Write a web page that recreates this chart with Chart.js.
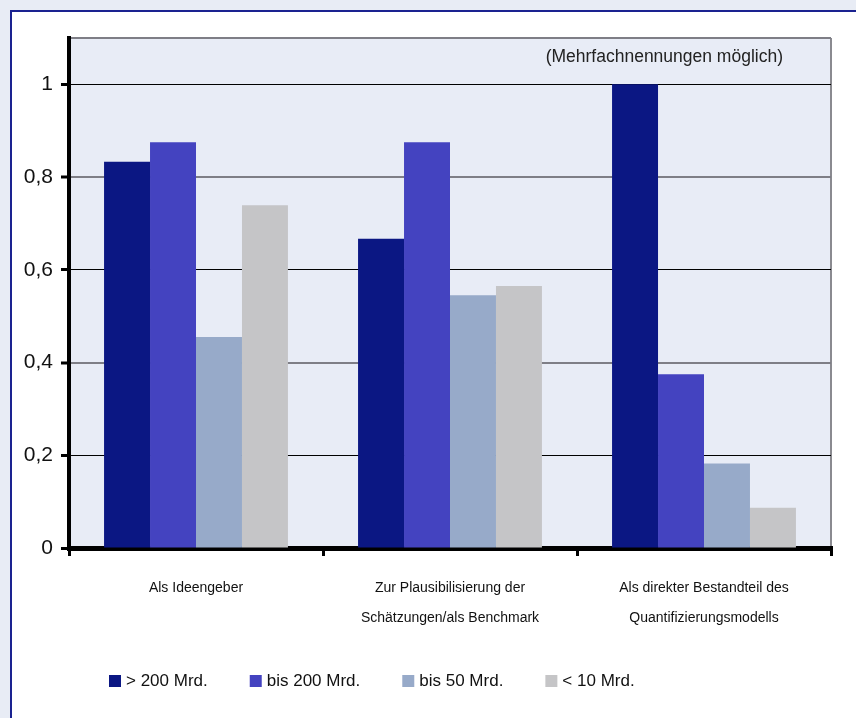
<!DOCTYPE html>
<html>
<head>
<meta charset="utf-8">
<script src="https://cdn.jsdelivr.net/npm/chart.js@4.4.1/dist/chart.umd.min.js"></script>
<style>
  html, body { margin: 0; padding: 0; background: #E8ECF5; overflow: hidden; }
  canvas { display: block; }
</style>
</head>
<body>
<canvas id="c" width="856" height="718"></canvas>
<script>
// ---- Data ----
const categories = [
  ["Als Ideengeber"],
  ["Zur Plausibilisierung der", "Schätzungen/als Benchmark"],
  ["Als direkter Bestandteil des", "Quantifizierungsmodells"]
];
const seriesNames = ["> 200 Mrd.", "bis 200 Mrd.", "bis 50 Mrd.", "< 10 Mrd."];
const over200 = [0.833, 0.667, 1.0];
const upTo200 = [0.875, 0.875, 0.375];
const upTo50  = [0.455, 0.545, 0.182];
const under10 = [0.739, 0.565, 0.087];
const yTicks = [0, 0.2, 0.4, 0.6, 0.8, 1];
const yMax = 1.1;
const note = "(Mehrfachnennungen möglich)";

const colors = ["#0B1783", "#4443C0", "#97AAC9", "#C5C5C7"];
const seriesValues = [over200, upTo200, upTo50, under10];

const FONT = "'Liberation Sans', Arial, Helvetica, sans-serif";
const grayTicks = [0.4, 0.8, 1.1];

const framePlugin = {
  id: 'frame',
  beforeDraw(chart) {
    const ctx = chart.ctx;
    const a = chart.chartArea;
    ctx.save();
    ctx.fillStyle = '#E8ECF5';
    ctx.fillRect(0, 0, chart.width, chart.height);
    ctx.fillStyle = '#FFFFFF';
    ctx.fillRect(11, 11, chart.width, chart.height);
    ctx.fillStyle = '#1A2290';
    ctx.fillRect(10, 10, chart.width, 2);
    ctx.fillRect(10, 10, 2, chart.height);
    ctx.fillStyle = '#E8ECF6';
    ctx.fillRect(a.left, a.top, a.right - a.left, a.bottom - a.top);
    ctx.strokeStyle = '#8A8A90';
    ctx.lineWidth = 2;
    ctx.beginPath();
    ctx.moveTo(a.right, a.top);
    ctx.lineTo(a.right, a.bottom);
    ctx.stroke();
    ctx.restore();
  },
  afterDraw(chart) {
    const ctx = chart.ctx;
    const a = chart.chartArea;
    ctx.save();
    // note
    ctx.font = "17.5px " + FONT;
    ctx.fillStyle = '#222';
    ctx.textAlign = 'right';
    ctx.textBaseline = 'middle';
    ctx.fillText(note, a.right - 48, 57);
    // legend
    ctx.font = "17px " + FONT;
    ctx.textAlign = 'left';
    let x = 109;
    const yMid = 681;
    chart.data.datasets.forEach(ds => {
      ctx.fillStyle = ds.backgroundColor;
      ctx.fillRect(x, yMid - 6, 12, 12);
      ctx.fillStyle = '#111';
      ctx.fillText(ds.label, x + 17, yMid);
      x += 17 + ctx.measureText(ds.label).width + 42;
    });
    ctx.restore();
  }
};

new Chart(document.getElementById('c'), {
  type: 'bar',
  data: {
    labels: categories,
    datasets: seriesNames.map((name, i) => ({
      label: name,
      data: seriesValues[i],
      backgroundColor: colors[i],
      borderWidth: 0,
      barPercentage: 1,
      categoryPercentage: 0.724
    }))
  },
  options: {
    responsive: false,
    devicePixelRatio: 1,
    animation: false,
    layout: { padding: { top: 38, right: 25, left: 0, bottom: 0 } },
    plugins: {
      legend: { display: false },
      tooltip: { enabled: false }
    },
    scales: {
      x: {
        offset: true,
        afterFit(scale) { scale.height = 170; },
        grid: {
          display: true,
          offset: true,
          drawOnChartArea: false,
          drawTicks: true,
          tickLength: 8,
          tickWidth: 3,
          tickColor: '#000',
          color: '#000',
          lineWidth: 3
        },
        border: { display: true, color: '#000', width: 5 },
        ticks: {
          color: '#111',
          font: { family: FONT, size: 14, lineHeight: '30px' },
          padding: 17,
          maxRotation: 0,
          autoSkip: false
        }
      },
      y: {
        min: 0,
        max: yMax,
        afterFit(scale) { scale.width = 69; },
        afterBuildTicks(scale) {
          scale.ticks = yTicks.concat([yMax]).map(v => ({ value: v }));
        },
        grid: {
          drawTicks: true,
          tickLength: 8,
          tickWidth: 3,
          tickColor: ctx => (ctx.tick && ctx.tick.value === yMax) ? 'rgba(0,0,0,0)' : '#000',
          color: ctx => (ctx.tick && grayTicks.includes(Math.round(ctx.tick.value * 10) / 10)) ? '#7E7E86' : '#000',
          lineWidth: ctx => (ctx.tick && grayTicks.includes(Math.round(ctx.tick.value * 10) / 10)) ? 2 : 1
        },
        border: { display: true, color: '#000', width: 4 },
        ticks: {
          color: '#111',
          padding: 8,
          font: { family: FONT, size: 21 },
          callback: (v) => (v === yMax ? '' : String(Math.round(v * 10) / 10).replace('.', ','))
        }
      }
    }
  },
  plugins: [framePlugin]
});
</script>
</body>
</html>
